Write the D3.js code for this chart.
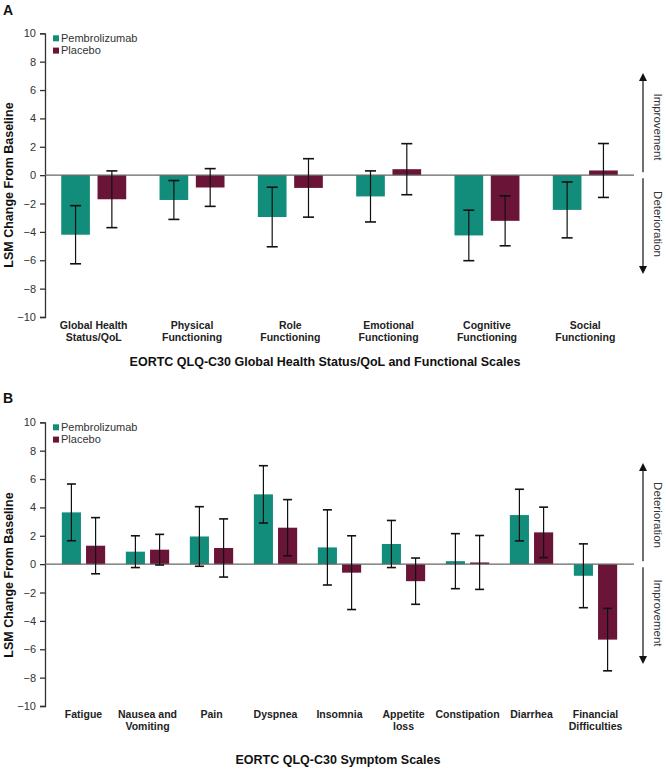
<!DOCTYPE html>
<html><head><meta charset="utf-8">
<script src="https://cdn.jsdelivr.net/npm/d3@7"></script>
<style>
body{margin:0;background:#fff;}
svg{display:block;font-family:"Liberation Sans",Arial,sans-serif;}
</style></head>
<body><svg id="c" width="666" height="769"></svg>
<script>
// ---------- DATA ----------
const seriesNames = ["Pembrolizumab", "Placebo"];
const seriesColors = ["#128d7c", "#6a1538"];
const yTicks = [-10, -8, -6, -4, -2, 0, 2, 4, 6, 8, 10];

// Panel A: functional scales
const catsA = [["Global Health","Status/QoL"],["Physical","Functioning"],["Role","Functioning"],["Emotional","Functioning"],["Cognitive","Functioning"],["Social","Functioning"]];
const pembroA = [-4.2, -1.75, -2.95, -1.5, -4.25, -2.45];
const pembroErrA = [2.05, 1.37, 2.1, 1.8, 1.78, 1.97];
const placeboA = [-1.7, -0.87, -0.9, 0.42, -3.22, 0.33];
const placeboErrA = [2.0, 1.33, 2.06, 1.8, 1.76, 1.9];

// Panel B: symptom scales
const catsB = [["Fatigue"],["Nausea and","Vomiting"],["Pain"],["Dyspnea"],["Insomnia"],["Appetite","loss"],["Constipation"],["Diarrhea"],["Financial","Difficulties"]];
const pembroB = [3.65, 0.88, 1.95, 4.92, 1.18, 1.42, 0.21, 3.46, -0.82];
const pembroErrB = [2.0, 1.12, 2.1, 2.02, 2.65, 1.66, 1.94, 1.82, 2.25];
const placeboB = [1.3, 1.02, 1.14, 2.57, -0.6, -1.2, 0.12, 2.24, -5.32];
const placeboErrB = [1.98, 1.08, 2.05, 1.98, 2.6, 1.63, 1.9, 1.78, 2.2];

const svg = d3.select("#c");

function panel(o){
  const g = svg.append("g");
  const x0 = 45, x1 = 634;
  const y = d3.scaleLinear().domain([-10,10]).range([o.yBottom, o.yTop]);
  const keys = o.cats.map((c,i)=>i);
  const xb = d3.scaleBand().domain(keys).range([x0,x1]).paddingInner(o.pi).paddingOuter(o.po);
  const xs = d3.scaleBand().domain([0,1]).range([0,xb.bandwidth()]).paddingInner(0.21);

  // panel letter
  g.append("text").attr("x",3).attr("y",o.letterY).attr("font-weight","bold").attr("font-size",14).attr("fill","#111").text(o.letter);

  // y axis
  const ax = g.append("g").attr("transform",`translate(${x0},0)`)
    .call(d3.axisLeft(y).tickValues(yTicks).tickSize(5).tickPadding(4).tickFormat(d=>d<0?"\u2212"+Math.abs(d):d));
  ax.select(".domain").attr("stroke","#333").attr("stroke-width",1.3);
  ax.selectAll(".tick line").attr("stroke","#333").attr("stroke-width",1.3);
  ax.selectAll(".tick text").attr("font-size",11).attr("fill","#333").attr("font-family","Liberation Sans, Arial, sans-serif");

  g.append("text").attr("transform",`translate(13,${o.yLabelY}) rotate(-90)`).attr("text-anchor","middle")
    .attr("font-weight","bold").attr("font-size",12.5).attr("fill","#111").text("LSM Change From Baseline");

  const data = [[o.p, o.pe],[o.q, o.qe]];
  data.forEach((s,si)=>{
    s[0].forEach((v,i)=>{
      const bx = xb(i)+xs(si);
      g.append("rect").attr("x",bx).attr("width",xs.bandwidth())
        .attr("y",y(Math.max(0,v))).attr("height",Math.abs(y(v)-y(0)))
        .attr("fill",seriesColors[si]);
    });
  });
  // zero line
  g.append("line").attr("x1",x0).attr("x2",x1).attr("y1",y(0)).attr("y2",y(0)).attr("stroke","#666").attr("stroke-width",1.2);
  // error bars
  data.forEach((s,si)=>{
    s[0].forEach((v,i)=>{
      const cx = xb(i)+xs(si)+xs.bandwidth()/2;
      const e = s[1][i];
      const hw = o.cap;
      g.append("line").attr("x1",cx).attr("x2",cx).attr("y1",y(v+e)).attr("y2",y(v-e)).attr("stroke","#111").attr("stroke-width",1.2);
      [v+e, v-e].forEach(t=>g.append("line").attr("x1",cx-hw).attr("x2",cx+hw).attr("y1",y(t)).attr("y2",y(t)).attr("stroke","#111").attr("stroke-width",1.6));
    });
  });

  // category labels
  o.cats.forEach((c,i)=>{
    const t = g.append("text").attr("x",xb(i)+xb.bandwidth()/2).attr("y",o.yBottom+12).attr("text-anchor","middle")
      .attr("font-weight","bold").attr("font-size",10.5).attr("fill","#222");
    c.forEach((line,li)=>t.append("tspan").attr("x",xb(i)+xb.bandwidth()/2).attr("dy",li===0?0:12).text(line));
  });

  // title
  g.append("text").attr("x",o.titleX).attr("y",o.titleY).attr("text-anchor","middle").attr("font-weight","bold")
    .attr("font-size",12.5).attr("fill","#111").text(o.title);

  // legend
  seriesNames.forEach((n,i)=>{
    const ly = y(10)+7+ i*12.3;
    g.append("rect").attr("x",53).attr("y",ly-5).attr("width",6).attr("height",6).attr("fill",seriesColors[i]);
    g.append("text").attr("x",61).attr("y",ly+1.5).attr("font-size",11).attr("fill","#333").text(n);
  });

  // arrows
  const ax2 = 643;
  const z = y(0);
  g.append("line").attr("x1",ax2).attr("x2",ax2).attr("y1",z-3).attr("y2",o.upTip+6).attr("stroke","#111").attr("stroke-width",1.2);
  g.append("path").attr("d",`M${ax2},${o.upTip} L${ax2-4},${o.upTip+8} L${ax2+4},${o.upTip+8} Z`).attr("fill","#111");
  g.append("line").attr("x1",ax2).attr("x2",ax2).attr("y1",z+3).attr("y2",o.downTip-6).attr("stroke","#111").attr("stroke-width",1.2);
  g.append("path").attr("d",`M${ax2},${o.downTip} L${ax2-4},${o.downTip-8} L${ax2+4},${o.downTip-8} Z`).attr("fill","#111");
  g.append("text").attr("transform",`translate(654,${o.upTextY}) rotate(90)`).attr("text-anchor","middle").attr("font-size",11.5).attr("fill","#333").text(o.upText);
  g.append("text").attr("transform",`translate(654,${o.downTextY}) rotate(90)`).attr("text-anchor","middle").attr("font-size",11.5).attr("fill","#333").text(o.downText);
}

panel({letter:"A", letterY:15, yTop:33.3, yBottom:317, cats:catsA, p:pembroA, pe:pembroErrA, q:placeboA, qe:placeboErrA,
  pi:0.339, po:0.165, cap:5.5, yLabelY:185, title:"EORTC QLQ-C30 Global Health Status/QoL and Functional Scales", titleX:325, titleY:366,
  upTip:73, downTip:274, upText:"Improvement", upTextY:127, downText:"Deterioration", downTextY:224});

panel({letter:"B", letterY:403, yTop:422.3, yBottom:706, cats:catsB, p:pembroB, pe:pembroErrB, q:placeboB, qe:placeboErrB,
  pi:0.323, po:0.263, cap:4.5, yLabelY:575, title:"EORTC QLQ-C30 Symptom Scales", titleX:338, titleY:764,
  upTip:463, downTip:664, upText:"Deterioration", upTextY:515, downText:"Improvement", downTextY:613});
</script>
</body></html>
